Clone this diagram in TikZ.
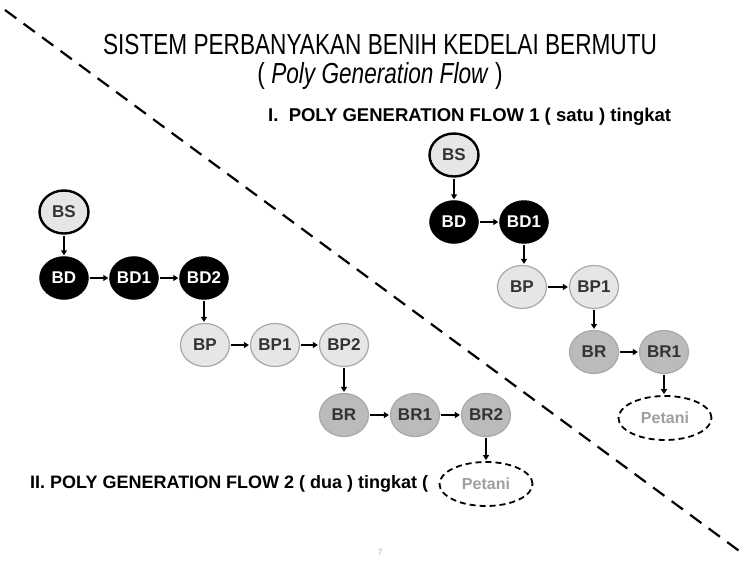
\documentclass[tikz,border=0pt]{standalone}
\usepackage{fontspec}
\setmainfont{Liberation Sans}
\newfontfamily\narrowfont[FakeStretch=0.78]{Liberation Sans}
\usetikzlibrary{shapes.geometric,arrows.meta}
\definecolor{lightseed}{HTML}{E6E6E6}
\definecolor{midseed}{HTML}{BBBBBB}
\definecolor{rimgray}{HTML}{A8A8A8}
\definecolor{textgray}{HTML}{333333}
\tikzset{
  seed/.style={ellipse,minimum width=49pt,minimum height=43pt,inner sep=0pt,font=\fontsize{17}{17}\selectfont\bfseries},
  seedbs/.style={seed,draw=black,line width=2.4pt,fill=lightseed,text=textgray},
  seedbd/.style={seed,draw=black,fill=black,text=white},
  seedbp/.style={seed,draw=rimgray,line width=1.2pt,fill=lightseed,text=textgray},
  seedbr/.style={seed,draw=rimgray,line width=1.2pt,fill=midseed,text=textgray},
  farmer/.style={ellipse,draw=black,dash pattern=on 6pt off 4pt,line width=1.8pt,minimum width=93pt,minimum height=44pt,inner sep=0pt,text=gray!75,font=\fontsize{16}{16}\selectfont\bfseries},
  flow/.style={-{Triangle[length=5pt,width=6pt]},line width=2pt,shorten >=1pt,shorten <=1pt},
  heading/.style={font=\fontsize{18.5}{18.5}\selectfont\bfseries,inner sep=0pt}
}
\begin{document}
\begin{tikzpicture}[x=1pt,y=-1pt,line cap=butt]
\useasboundingbox[fill=white] (0,0) rectangle (745,565);
% divider
\draw[line width=2.2pt,dash pattern=on 14pt off 9pt] (5,10) -- (742,553);
% titles
\node[font=\narrowfont\fontsize{29}{29}\selectfont,inner sep=0pt] (title) at (380,45) {SISTEM PERBANYAKAN BENIH KEDELAI BERMUTU};
\node[font=\narrowfont\fontsize{29}{29}\selectfont,inner sep=0pt] (subtitle) at (380,76) {( \textit{Poly Generation Flow} )};
\node[heading,anchor=west] (headone) at (268,117) {I.\ \ POLY GENERATION FLOW 1 ( satu ) tingkat};
\node[heading,anchor=west,font=\fontsize{18}{18}\selectfont\bfseries] (headtwo) at (30,484) {II. POLY GENERATION FLOW 2 ( dua ) tingkat (};
\node[font=\fontsize{9}{9}\selectfont,text=gray!60] (page) at (380,552) {7};
% flow 1
\node[seedbs] (abs) at (454,155) {BS};
\node[seedbd] (abd) at (454,222) {BD};
\node[seedbd] (abdi) at (524,222) {BD1};
\node[seedbp] (abp) at (522,287) {BP};
\node[seedbp] (abpi) at (594,287) {BP1};
\node[seedbr] (abr) at (594,352) {BR};
\node[seedbr] (abri) at (664,352) {BR1};
\node[farmer] (apetani) at (665,418) {Petani};
\draw[flow] (abs) -- (abd);
\draw[flow] (abd) -- (abdi);
\draw[flow] (abdi.south) -- (abdi.south|-abp.north);
\draw[flow] (abp) -- (abpi);
\draw[flow] (abpi) -- (abr);
\draw[flow] (abr) -- (abri);
\draw[flow] (abri.south) -- (abri.south|-apetani.north);
% flow 2
\node[seedbs] (bbs) at (64,212) {BS};
\node[seedbd] (bbd) at (64,278) {BD};
\node[seedbd] (bbdi) at (134,278) {BD1};
\node[seedbd] (bbdii) at (204,278) {BD2};
\node[seedbp] (bbp) at (205,345) {BP};
\node[seedbp] (bbpi) at (275,345) {BP1};
\node[seedbp] (bbpii) at (344,345) {BP2};
\node[seedbr] (bbr) at (344,415) {BR};
\node[seedbr] (bbri) at (415,415) {BR1};
\node[seedbr] (bbrii) at (486,415) {BR2};
\node[farmer] (bpetani) at (486,484) {Petani};
\draw[flow] (bbs) -- (bbd);
\draw[flow] (bbd) -- (bbdi);
\draw[flow] (bbdi) -- (bbdii);
\draw[flow] (bbdii.south) -- (bbdii.south|-bbp.north);
\draw[flow] (bbp) -- (bbpi);
\draw[flow] (bbpi) -- (bbpii);
\draw[flow] (bbpii) -- (bbr);
\draw[flow] (bbr) -- (bbri);
\draw[flow] (bbri) -- (bbrii);
\draw[flow] (bbrii) -- (bpetani);
\end{tikzpicture}
\end{document}
